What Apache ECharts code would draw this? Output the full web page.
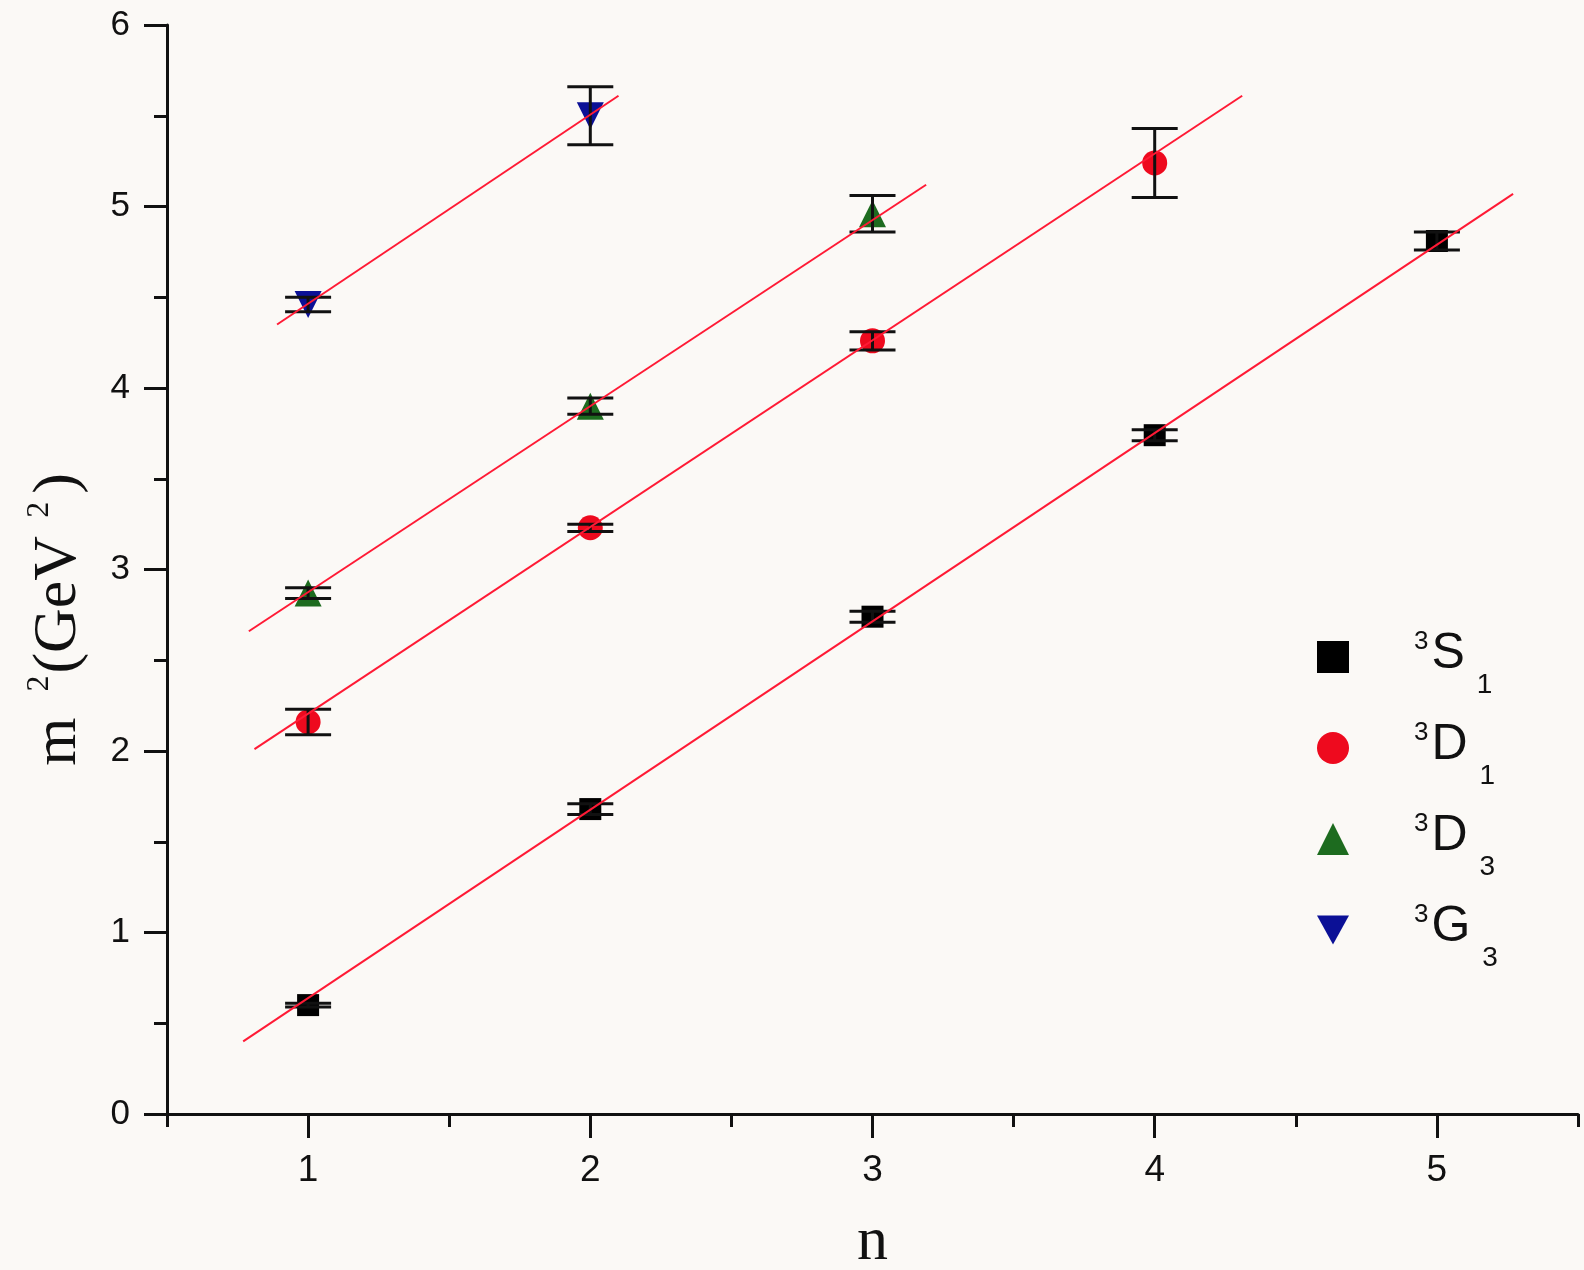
<!DOCTYPE html>
<html>
<head>
<meta charset="utf-8">
<script src="https://cdn.jsdelivr.net/npm/echarts@6/dist/echarts.min.js"></script>
<style>
  html, body { margin: 0; padding: 0; background: #fbf9f6; }
  #chart { width: 1584px; height: 1270px; }
</style>
</head>
<body>
<div id="chart"></div>
<script>
// Radial quantum number n
const nS1 = [1, 2, 3, 4, 5];
const nD1 = [1, 2, 3, 4];
const nD3 = [1, 2, 3];
const nG3 = [1, 2];

// Squared masses m^2 (GeV^2) and their uncertainties
const mS1 = [0.60, 1.68, 2.74, 3.74, 4.81];
const eS1 = [0.01, 0.03, 0.03, 0.03, 0.05];
const mD1 = [2.16, 3.23, 4.26, 5.24];
const eD1 = [0.07, 0.02, 0.05, 0.19];
const mD3 = [2.87, 3.90, 4.96];
const eD3 = [0.03, 0.045, 0.10];
const mG3 = [4.46, 5.50];
const eG3 = [0.04, 0.16];

// Linear Regge trajectories: end points [n, m^2]
const fitS1 = [[0.77, 0.40], [5.27, 5.07]];
const fitD1 = [[0.81, 2.01], [4.31, 5.61]];
const fitD3 = [[0.79, 2.66], [3.19, 5.12]];
const fitG3 = [[0.89, 4.35], [2.10, 5.61]];

// Axis ticks
const xMajor = [1, 2, 3, 4, 5];
const xMinor = [0.5, 1.5, 2.5, 3.5, 4.5, 5.5];

const names = ['S1', 'D1', 'D3', 'G3'];
const legendText = {
  S1: '{sup|3}{main|S}{sub|1}',
  D1: '{sup|3}{main|D}{sub|1}',
  D3: '{sup|3}{main|D}{sub|3}',
  G3: '{sup|3}{main|G}{sub|3}'
};

const zip = (xs, ys) => xs.map((x, i) => [x, ys[i]]);
const zip3 = (xs, ys, es) => xs.map((x, i) => [x, ys[i], es[i]]);

const INK = '#111111';
const FIT_RED = '#ff1a35';
const SANS = 'Liberation Sans, Arial, sans-serif';
const SERIF = 'Liberation Serif, Times New Roman, serif';

function scatter(name, xs, ys, symbol, size, color) {
  return {
    name, type: 'scatter', data: zip(xs, ys),
    symbol, symbolSize: size,
    itemStyle: { color, opacity: 1 },
    z: 3
  };
}

function errorBars(xs, ys, es) {
  return {
    type: 'custom',
    data: zip3(xs, ys, es),
    z: 4,
    silent: true,
    renderItem(params, api) {
      const x = api.value(0), y = api.value(1), e = api.value(2);
      const hi = api.coord([x, y + e]);
      const lo = api.coord([x, y - e]);
      const hw = 23;
      const style = { stroke: INK, lineWidth: 3 };
      return {
        type: 'group',
        children: [
          { type: 'line', shape: { x1: hi[0], y1: hi[1], x2: lo[0], y2: lo[1] }, style },
          { type: 'line', shape: { x1: hi[0] - hw, y1: hi[1], x2: hi[0] + hw, y2: hi[1] }, style },
          { type: 'line', shape: { x1: lo[0] - hw, y1: lo[1], x2: lo[0] + hw, y2: lo[1] }, style }
        ]
      };
    }
  };
}

function fitLine(pts) {
  return {
    type: 'line', data: pts, symbol: 'none', silent: true,
    lineStyle: { color: FIT_RED, width: 2 },
    z: 5
  };
}

const chart = echarts.init(document.getElementById('chart'));

chart.setOption({
  backgroundColor: '#fbf9f6',
  animation: false,
  grid: { left: 167, right: 6, top: 25, bottom: 156, outerBoundsMode: 'none', containLabel: false },
  xAxis: [
    {
      type: 'value', min: 0.5, max: 5.5, position: 'bottom',
      name: 'n', nameLocation: 'middle', nameGap: 98,
      nameTextStyle: { fontFamily: SERIF, fontSize: 62, color: INK },
      axisLine: { show: true, onZero: false, lineStyle: { color: INK, width: 3 } },
      axisTick: { show: true, customValues: xMajor, length: 24, lineStyle: { color: INK, width: 3 } },
      axisLabel: { customValues: xMajor, margin: 38, fontFamily: SANS, fontSize: 37, color: INK },
      splitLine: { show: false }
    },
    {
      type: 'value', min: 0.5, max: 5.5, position: 'bottom', offset: 0,
      axisLine: { show: false },
      axisTick: { show: true, customValues: xMinor, length: 13, lineStyle: { color: INK, width: 3 } },
      axisLabel: { show: false },
      splitLine: { show: false }
    }
  ],
  yAxis: {
    type: 'value', min: 0, max: 6, interval: 1,
    name: '{t|m}{s1|2}{t|(GeV}{s2|2}{t|)}',
    nameLocation: 'middle', nameGap: 77, nameRotate: 90,
    nameTextStyle: {
      color: INK,
      padding: [0, 0, 0, -100],
      rich: {
        t: { fontFamily: SERIF, fontSize: 62, color: INK, lineHeight: 66, verticalAlign: 'bottom' },
        s1: { fontFamily: SERIF, fontSize: 32, color: INK, lineHeight: 34, verticalAlign: 'top', padding: [0, 2, 0, 26] },
        s2: { fontFamily: SERIF, fontSize: 32, color: INK, lineHeight: 34, verticalAlign: 'top', padding: [0, 8, 0, 18] }
      }
    },
    axisLine: { show: true, lineStyle: { color: INK, width: 3 } },
    axisTick: { show: true, length: 23, lineStyle: { color: INK, width: 3 } },
    minorTick: { show: true, splitNumber: 2, length: 13, lineStyle: { color: INK, width: 3 } },
    axisLabel: { margin: 37, fontFamily: SANS, fontSize: 35, color: INK },
    splitLine: { show: false },
    minorSplitLine: { show: false }
  },
  legend: {
    orient: 'vertical',
    left: 1312, top: 624,
    itemWidth: 32, itemHeight: 32,
    itemGap: 21,
    data: names,
    formatter: (name) => legendText[name],
    textStyle: {
      padding: [0, 0, 0, 60],
      rich: {
        main: { fontFamily: SANS, fontSize: 50, color: INK, lineHeight: 56, verticalAlign: 'top' },
        sup: { fontFamily: SANS, fontSize: 26, color: INK, lineHeight: 24, verticalAlign: 'top', padding: [0, 3, 0, 0] },
        sub: { fontFamily: SANS, fontSize: 28, color: INK, lineHeight: 28, verticalAlign: 'top', padding: [42, 0, 0, 12] }
      }
    }
  },
  series: [
    scatter('S1', nS1, mS1, 'rect', 22, '#000000'),
    scatter('D1', nD1, mD1, 'circle', 25, '#ee0a1e'),
    scatter('D3', nD3, mD3, 'triangle', 27, '#1d6b1f'),
    scatter('G3', nG3, mG3, 'path://M0,0 L10,0 L5,9 Z', 27, '#0b1096'),
    errorBars(nS1, mS1, eS1),
    errorBars(nD1, mD1, eD1),
    errorBars(nD3, mD3, eD3),
    errorBars(nG3, mG3, eG3),
    fitLine(fitS1),
    fitLine(fitD1),
    fitLine(fitD3),
    fitLine(fitG3)
  ]
});
</script>
</body>
</html>
